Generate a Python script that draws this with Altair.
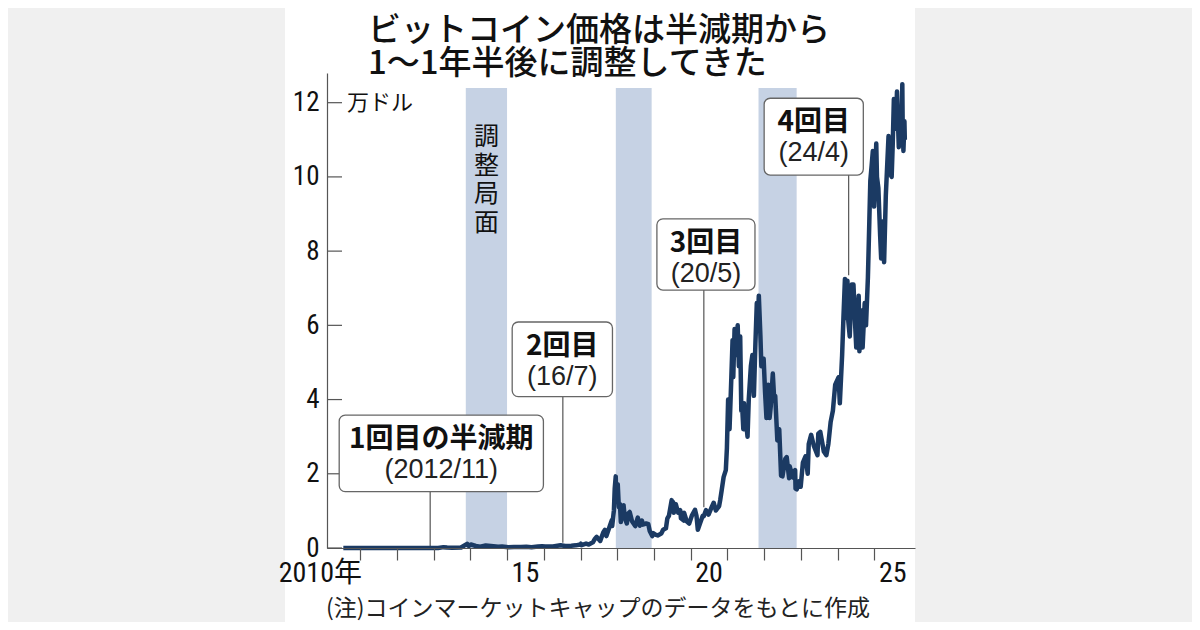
import altair as alt
import pandas as pd

# ---------------- text ----------------
title_lines = ["ビットコイン価格は半減期から", "1〜1年半後に調整してきた"]
unit_label = "万ドル"
note_text = "(注)コインマーケットキャップのデータをもとに作成"
band_label = "調整局面"

# ---------------- price series (万ドル) ----------------
price_dates = [
    "2010-07-18", "2010-11-06", "2011-02-10", "2011-06-08", "2011-08-01", "2011-11-18",
    "2012-03-01", "2012-08-16", "2012-11-28", "2013-02-15", "2013-04-09", "2013-05-15",
    "2013-07-05", "2013-10-01", "2013-11-30", "2013-12-18", "2014-01-06", "2014-02-25",
    "2014-04-10", "2014-06-03", "2014-08-18", "2014-10-05", "2014-11-12", "2015-01-14",
    "2015-03-10", "2015-05-20", "2015-07-12", "2015-09-01", "2015-11-04", "2015-12-15",
    "2016-01-15", "2016-04-01", "2016-06-16", "2016-08-02", "2016-10-01", "2016-11-15",
    "2016-12-31", "2017-01-05", "2017-01-12", "2017-02-25", "2017-03-24", "2017-05-04",
    "2017-05-25", "2017-06-11", "2017-07-16", "2017-08-15", "2017-09-01", "2017-09-15",
    "2017-10-20", "2017-11-08", "2017-11-12", "2017-11-29", "2017-12-07", "2017-12-17",
    "2017-12-22", "2018-01-06", "2018-01-17", "2018-01-28", "2018-02-06", "2018-02-20",
    "2018-03-05", "2018-03-18", "2018-04-06", "2018-04-24", "2018-05-05", "2018-05-28",
    "2018-06-29", "2018-07-24", "2018-08-14", "2018-09-04", "2018-09-11", "2018-10-15",
    "2018-11-06", "2018-11-20", "2018-12-15", "2018-12-24", "2019-01-15", "2019-02-07",
    "2019-03-15", "2019-04-02", "2019-04-30", "2019-05-14", "2019-05-30", "2019-06-26",
    "2019-07-02", "2019-07-10", "2019-07-17", "2019-08-06", "2019-08-29", "2019-09-19",
    "2019-09-26", "2019-10-24", "2019-10-27", "2019-11-22", "2019-12-17", "2020-01-14",
    "2020-02-13", "2020-02-28", "2020-03-12", "2020-03-31", "2020-04-30", "2020-05-11",
    "2020-06-01", "2020-06-27", "2020-07-28", "2020-08-17", "2020-09-08", "2020-10-10",
    "2020-10-21", "2020-11-05", "2020-11-24", "2020-12-16", "2020-12-27", "2021-01-08",
    "2021-01-22", "2021-02-09", "2021-02-21", "2021-02-28", "2021-03-13", "2021-03-25",
    "2021-04-13", "2021-04-25", "2021-05-08", "2021-05-19", "2021-05-26", "2021-06-08",
    "2021-06-15", "2021-06-22", "2021-07-05", "2021-07-20", "2021-08-01", "2021-08-22",
    "2021-09-06", "2021-09-21", "2021-10-06", "2021-10-20", "2021-10-28", "2021-11-09",
    "2021-11-25", "2021-12-04", "2021-12-27", "2022-01-10", "2022-01-24", "2022-02-10",
    "2022-02-24", "2022-03-07", "2022-03-28", "2022-04-11", "2022-04-21", "2022-05-12",
    "2022-05-31", "2022-06-18", "2022-07-02", "2022-07-30", "2022-08-13", "2022-09-06",
    "2022-09-12", "2022-10-12", "2022-11-05", "2022-11-09", "2022-11-21", "2022-12-13",
    "2022-12-30", "2023-01-21", "2023-02-16", "2023-03-10", "2023-03-20", "2023-04-13",
    "2023-05-10", "2023-06-15", "2023-06-23", "2023-07-13", "2023-08-17", "2023-09-11",
    "2023-10-01", "2023-10-24", "2023-11-15", "2023-12-08", "2024-01-11", "2024-01-23",
    "2024-02-15", "2024-02-28", "2024-03-14", "2024-03-20", "2024-03-26", "2024-04-08",
    "2024-04-17", "2024-05-01", "2024-05-21", "2024-06-07", "2024-06-24", "2024-07-05",
    "2024-07-29", "2024-08-05", "2024-08-24", "2024-09-06", "2024-09-27", "2024-10-10",
    "2024-10-29", "2024-11-12", "2024-11-22", "2024-12-05", "2024-12-17", "2024-12-30",
    "2025-01-20", "2025-01-27", "2025-02-10", "2025-02-28", "2025-03-10", "2025-03-24",
    "2025-04-08", "2025-04-25", "2025-05-22", "2025-06-05", "2025-06-22", "2025-07-03",
    "2025-07-14", "2025-07-30", "2025-08-02", "2025-08-14", "2025-09-01", "2025-09-18",
    "2025-09-25", "2025-10-06", "2025-10-10", "2025-10-17", "2025-10-27", "2025-10-31",
]
price_values = [
    0.0001, 0.00004, 0.0001, 0.0029, 0.0013, 0.0002,
    0.0005, 0.0013, 0.0012, 0.0027, 0.023, 0.012,
    0.007, 0.0125, 0.113, 0.055, 0.094, 0.054,
    0.036, 0.067, 0.047, 0.032, 0.043, 0.018,
    0.029, 0.024, 0.031, 0.023, 0.040, 0.045,
    0.038, 0.042, 0.075, 0.055, 0.061, 0.071,
    0.096, 0.115, 0.078, 0.118, 0.094, 0.152,
    0.25, 0.30, 0.19, 0.42, 0.49, 0.32,
    0.60, 0.75, 0.59, 1.02, 1.6, 1.93,
    1.38, 1.72, 1.1, 1.18, 0.70, 1.12,
    1.15, 0.80, 0.66, 0.94, 0.97, 0.72,
    0.59, 0.82, 0.60, 0.74, 0.63, 0.66,
    0.64, 0.46, 0.32, 0.40, 0.36, 0.34,
    0.39, 0.49, 0.53, 0.80, 0.87, 1.29,
    1.06, 1.24, 0.95, 1.18, 0.95, 1.02,
    0.80, 0.74, 0.95, 0.72, 0.66, 0.88,
    1.03, 0.86, 0.49, 0.64, 0.87, 0.86,
    1.02, 0.90, 1.10, 1.22, 1.01, 1.13,
    1.29, 1.56, 1.91, 2.1, 2.7, 4.0,
    3.2, 4.6, 5.6, 4.6, 5.9, 5.2,
    6.0, 4.9, 5.7, 3.7, 3.9, 3.2,
    3.9, 3.2, 3.4, 3.0, 4.0, 4.9,
    5.2, 4.1, 5.5, 6.6, 6.0, 6.8,
    5.7, 4.9, 5.1, 4.2, 3.5, 4.4,
    3.5, 3.8, 4.7, 4.0, 4.1, 2.9,
    3.2, 1.95, 1.93, 2.4, 2.45, 1.88,
    2.2, 1.9, 2.1, 1.6, 1.58, 1.8,
    1.65, 2.3, 2.47, 2.0, 2.8, 3.05,
    2.75, 2.5, 3.08, 3.13, 2.6, 2.5,
    2.8, 3.4, 3.7, 4.4, 4.6, 3.9,
    5.2, 6.2, 7.25, 6.2, 7.0, 7.2,
    6.1, 5.7, 7.1, 7.1, 6.0, 5.4,
    6.8, 5.3, 6.4, 5.4, 6.6, 6.0,
    7.3, 8.8, 9.9, 10.3, 10.7, 9.2,
    10.9, 10.0, 9.7, 8.4, 7.8, 8.8,
    7.7, 9.5, 11.1, 10.1, 10.0, 10.9,
    12.1, 11.7, 11.3, 12.3, 10.8, 11.7,
    10.9, 12.5, 11.3, 10.7, 11.5, 11.0,
]

# ---------------- adjustment phases ----------------
band_starts = ["2013-11-17", "2017-12-18", "2021-11-06"]
band_ends = ["2015-01-01", "2018-12-09", "2022-11-20"]

# ---------------- halvings ----------------
halving_dates = ["2012-11-28", "2016-07-09", "2020-05-11", "2024-04-20"]
halving_titles = ["1回目の半減期", "2回目", "3回目", "4回目"]
halving_subs = ["(2012/11)", "(16/7)", "(20/5)", "(24/4)"]
leader_end_values = [0.04, 0.14, 1.1, 7.35]

# ---------------- axes ----------------
y_ticks = [0, 2, 4, 6, 8, 10, 12]
year_ticks = list(range(2011, 2026))
year_label_years = [2015, 2020, 2025]
year_label_texts = ["15", "20", "25"]
first_year_label = "2010年"
first_year_label_anchor = 2011

# ---------------- annotation layout (data units) ----------------
box_x0 = [2010.43, 2015.14, 2019.08, 2022.00]
box_x1 = [2015.99, 2017.87, 2021.75, 2024.70]
box_top = [3.58, 6.09, 8.87, 12.12]
box_bottom = [1.52, 4.08, 6.95, 10.05]


def dec_year(s):
    d = pd.Timestamp(s)
    a = pd.Timestamp(year=d.year, month=1, day=1)
    b = pd.Timestamp(year=d.year + 1, month=1, day=1)
    return d.year + (d - a) / (b - a)


W, H = 588, 475
CJK = "Noto Sans CJK JP"
NUM = ("Liberation Sans Narrow, Arial Narrow, Roboto Condensed, DejaVu Sans Condensed, "
       "Liberation Sans, Noto Sans CJK JP, sans-serif")
LINE = "#1b3a63"
GRAY = "#555555"

xs = alt.Scale(domain=[2010.098, 2026.107], nice=False, zero=False)
ys = alt.Scale(domain=[0, 12.8], nice=False, zero=True)

XAX = alt.Axis(values=year_ticks, labels=False, tickSize=12, tickColor=GRAY, tickWidth=1.2,
               domainColor=GRAY, domainWidth=1.2, grid=False, title=None, zindex=1)
YAX = alt.Axis(values=y_ticks, ticks=False, grid=False, title=None, labelFont=NUM,
               labelFontSize=27, labelColor="#111", labelPadding=8, domainColor=GRAY,
               domainWidth=1.2, zindex=1)

price_df = pd.DataFrame({"t": [dec_year(d) for d in price_dates], "v": price_values})
band_df = pd.DataFrame({"s": [dec_year(d) for d in band_starts], "e": [dec_year(d) for d in band_ends]})
box_df = pd.DataFrame({
    "x0": box_x0, "x1": box_x1, "top": box_top, "bottom": box_bottom,
    "xm": [(a + b) / 2 for a, b in zip(box_x0, box_x1)],
    "title": halving_titles, "sub": halving_subs,
    "hx": [dec_year(d) for d in halving_dates], "lend": leader_end_values,
})

one = pd.DataFrame({"k": [0]})

panel = alt.Chart(one).mark_rect(fill="white").encode(
    x=alt.value(-42), x2=alt.value(W), y=alt.value(-80), y2=alt.value(H + 90)
)

bands = alt.Chart(band_df).mark_rect(color="#c6d2e4").encode(
    x=alt.X("s:Q", scale=xs, axis=XAX), x2="e:Q",
    y=alt.value(15), y2=alt.value(H),
)

band_text = alt.Chart(pd.DataFrame({
    "x": [(band_df["s"][0] + band_df["e"][0]) / 2],
    "s": ["\n".join(list(band_label))],
})).mark_text(font=CJK, fontSize=25, lineBreak="\n", lineHeight=28.5, align="center",
              baseline="alphabetic", color="#111").encode(
    x=alt.X("x:Q", scale=xs, axis=XAX), y=alt.value(72), text="s:N"
)

leaders = alt.Chart(box_df).mark_rule(color=GRAY, strokeWidth=1.2).encode(
    x=alt.X("hx:Q", scale=xs, axis=XAX),
    y=alt.Y("bottom:Q", scale=ys, axis=YAX), y2="lend:Q",
)

line = alt.Chart(price_df).mark_line(color=LINE, strokeWidth=4.5, strokeJoin="round").encode(
    x=alt.X("t:Q", scale=xs, axis=XAX),
    y=alt.Y("v:Q", scale=ys, axis=YAX),
)

ytick_rules = alt.Chart(pd.DataFrame({"v": y_ticks})).mark_rule(color=GRAY, strokeWidth=1.2).encode(
    y=alt.Y("v:Q", scale=ys, axis=YAX), x=alt.value(0), x2=alt.value(15)
)

unit = alt.Chart(pd.DataFrame({"v": [y_ticks[-1]], "s": [unit_label]})).mark_text(
    font=CJK, fontSize=22, align="left", baseline="middle", color="#111").encode(
    y=alt.Y("v:Q", scale=ys, axis=YAX), x=alt.value(20), text="s:N"
)

xlab = alt.Chart(pd.DataFrame({"x": [y + 0.5 for y in year_label_years], "s": year_label_texts})).mark_text(
    font=NUM, fontSize=28, align="center", baseline="middle", color="#111").encode(
    x=alt.X("x:Q", scale=xs, axis=XAX), y=alt.value(H + 26), text="s:N"
)
xlab0 = alt.Chart(pd.DataFrame({"x": [first_year_label_anchor + 0.05], "s": [first_year_label]})).mark_text(
    font=NUM, fontSize=28, align="right", baseline="middle", color="#111").encode(
    x=alt.X("x:Q", scale=xs, axis=XAX), y=alt.value(H + 26), text="s:N"
)

boxes = alt.Chart(box_df).mark_rect(fill="white", stroke="#666666", strokeWidth=1.3, cornerRadius=6).encode(
    x=alt.X("x0:Q", scale=xs, axis=XAX), x2="x1:Q",
    y=alt.Y("top:Q", scale=ys, axis=YAX), y2="bottom:Q",
)
box_t1 = alt.Chart(box_df).mark_text(font=CJK, fontSize=28, fontWeight="bold", baseline="middle",
                                     dy=25, color="#111").encode(
    x=alt.X("xm:Q", scale=xs, axis=XAX), y=alt.Y("top:Q", scale=ys, axis=YAX), text="title:N"
)
box_t2 = alt.Chart(box_df).mark_text(font="Liberation Sans, Noto Sans CJK JP", fontSize=27, baseline="middle",
                                     dy=55, color="#222").encode(
    x=alt.X("xm:Q", scale=xs, axis=XAX), y=alt.Y("top:Q", scale=ys, axis=YAX), text="sub:N"
)

title1 = alt.Chart(pd.DataFrame({"s": [title_lines[0]]})).mark_text(
    font=CJK, fontSize=33, fontWeight=500, align="left", baseline="alphabetic", color="#111").encode(
    x=alt.value(41), y=alt.value(-32), text="s:N"
)
title2 = alt.Chart(pd.DataFrame({"s": [title_lines[1]]})).mark_text(
    font=CJK, fontSize=33, fontWeight=500, align="left", baseline="alphabetic", color="#111").encode(
    x=alt.value(41), y=alt.value(1), text="s:N"
)

note = alt.Chart(pd.DataFrame({"s": [note_text]})).mark_text(
    font=CJK, fontSize=23, align="center", baseline="middle", color="#222").encode(
    x=alt.value(271), y=alt.value(536), text="s:N"
)

chart = alt.layer(
    panel, bands, band_text, leaders, line, ytick_rules, unit, xlab, xlab0,
    boxes, box_t1, box_t2, title1, title2, note,
).properties(
    width=W, height=H,
    padding={"left": 319, "top": 65, "right": 277, "bottom": 74},
    autosize=alt.AutoSizeParams(type="none"),
    background="#f0f0f0",
).configure_view(stroke=None)

chart.save("out.html", embed_options={"renderer": "svg", "actions": False})
